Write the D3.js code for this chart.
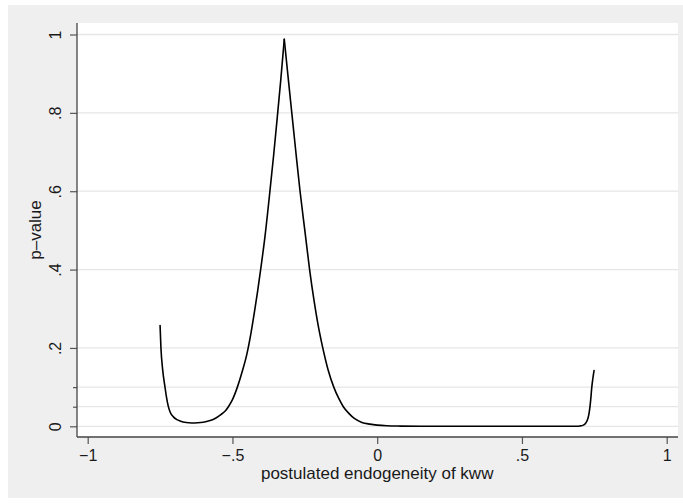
<!DOCTYPE html>
<html>
<head>
<meta charset="utf-8">
<script src="https://cdn.jsdelivr.net/npm/d3@7"></script>
<style>
  html, body { margin: 0; padding: 0; background: #ffffff; }
  svg { display: block; }
  text { font-family: "Liberation Sans", Arial, Helvetica, sans-serif; fill: #1a1a1a; }
</style>
</head>
<body>
<svg id="chart" width="683" height="503"></svg>
<script>
// ---- data ----
const rhoValues = [
  -0.750, -0.747, -0.741, -0.733, -0.728, -0.722, -0.715, -0.704, -0.692, -0.681,
  -0.660, -0.641, -0.620, -0.601, -0.580, -0.560, -0.540, -0.525, -0.514, -0.500,
  -0.483, -0.467, -0.450, -0.436, -0.424, -0.413, -0.403, -0.388, -0.372, -0.358,
  -0.345, -0.333, -0.321, -0.308, -0.295, -0.281, -0.2665, -0.250, -0.2335, -0.218,
  -0.205, -0.188, -0.170, -0.150, -0.134, -0.117, -0.098, -0.079, -0.053, -0.025,
  0.000, 0.033, 0.080, 0.150, 0.300, 0.500, 0.650, 0.690, 0.700, 0.712,
  0.720, 0.726, 0.731, 0.735, 0.738, 0.741, 0.745, 0.749
];
const pValues = [
  0.257, 0.200, 0.144, 0.100, 0.075, 0.052, 0.036, 0.024, 0.017, 0.0135,
  0.0095, 0.0084, 0.0090, 0.0105, 0.0140, 0.0200, 0.0300, 0.0390, 0.0500, 0.0680,
  0.100, 0.138, 0.185, 0.238, 0.292, 0.345, 0.398, 0.482, 0.590, 0.690,
  0.790, 0.885, 0.988, 0.893, 0.800, 0.700, 0.600, 0.500, 0.400, 0.320,
  0.262, 0.200, 0.145, 0.100, 0.073, 0.050, 0.033, 0.020, 0.010, 0.0055,
  0.003, 0.0013, 0.0005, 0.0001, 0.0, 0.0, 0.0, 0.0002, 0.0008, 0.003,
  0.008, 0.016, 0.030, 0.050, 0.072, 0.098, 0.122, 0.142
];
const xTicks = [-1, -0.5, 0, 0.5, 1];
const xTickLabels = ["\u22121", "\u2212.5", "0", ".5", "1"];
const yTicks = [0, 0.2, 0.4, 0.6, 0.8, 1];
const yTickLabels = ["0", ".2", ".4", ".6", ".8", "1"];
const yMinorTicks = [0.05, 0.1];
const xTitle = "postulated endogeneity of kww";
const yTitle = "p\u2013value";

// ---- layout ----
const svg = d3.select("#chart");
const W = 683, H = 503;
const plotL = 77, plotR = 678, plotT = 23, plotB = 437;

const x = d3.scaleLinear().domain([-1, 1]).range([87.7, 666.7]);
const y = d3.scaleLinear().domain([0, 1]).range([426.3, 34.5]);

// graph region background
svg.append("rect").attr("x", 8).attr("y", 5).attr("width", W - 8).attr("height", H - 10)
  .attr("fill", "#efefef");
// plot region
svg.append("rect").attr("x", plotL).attr("y", plotT)
  .attr("width", plotR - plotL).attr("height", plotB - plotT).attr("fill", "#ffffff");

// gridlines
const gridVals = yTicks.concat(yMinorTicks);
svg.append("g").selectAll("line").data(gridVals).join("line")
  .attr("x1", plotL).attr("x2", plotR)
  .attr("y1", d => y(d)).attr("y2", d => y(d))
  .attr("stroke", "#e6e6e6").attr("stroke-width", 1.3);

// y axis (major)
const yAxis = d3.axisLeft(y).tickValues(yTicks).tickSize(7)
  .tickFormat((d, i) => yTickLabels[i]);
const gy = svg.append("g").attr("transform", `translate(${plotL},0)`).call(yAxis);
gy.select(".domain").remove();
gy.selectAll(".tick line").attr("stroke", "#555").attr("stroke-width", 1.2);
gy.selectAll(".tick text")
  .attr("font-size", 16).attr("fill", "#1a1a1a")
  .attr("text-anchor", "middle")
  .attr("x", 0).attr("y", 0).attr("dy", null)
  .attr("transform", "translate(-16,0) rotate(-90)");

// y axis (minor)
const yMinor = d3.axisLeft(y).tickValues(yMinorTicks).tickSize(4).tickFormat("");
const gym = svg.append("g").attr("transform", `translate(${plotL},0)`).call(yMinor);
gym.select(".domain").remove();
gym.selectAll(".tick line").attr("stroke", "#555").attr("stroke-width", 1.2);

svg.append("line").attr("x1", plotL).attr("x2", plotL).attr("y1", plotT).attr("y2", plotB)
  .attr("stroke", "#444").attr("stroke-width", 1.3);

// x axis
const xAxis = d3.axisBottom(x).tickValues(xTicks).tickSize(7)
  .tickFormat((d, i) => xTickLabels[i]);
const gx = svg.append("g").attr("transform", `translate(0,${plotB})`).call(xAxis);
gx.select(".domain").remove();
gx.selectAll(".tick line").attr("stroke", "#555").attr("stroke-width", 1.2);
gx.selectAll(".tick text").attr("font-size", 16).attr("fill", "#1a1a1a")
  .attr("dy", null).attr("y", 23.5);
svg.append("line").attr("x1", plotL).attr("x2", plotR).attr("y1", plotB).attr("y2", plotB)
  .attr("stroke", "#444").attr("stroke-width", 1.3);

// axis titles
svg.append("text").attr("x", x(0)).attr("y", 479)
  .attr("text-anchor", "middle").attr("font-size", 17).text(xTitle);
svg.append("text")
  .attr("transform", `translate(40.5,${(plotT + plotB) / 2}) rotate(-90)`)
  .attr("text-anchor", "middle").attr("font-size", 17).text(yTitle);

// curve: smooth on each side of the peak, sharp at the peak itself
const pts = rhoValues.map((r, i) => [r, pValues[i]]);
const peakIdx = d3.maxIndex(pValues);
const line = d3.line().x(d => x(d[0])).y(d => y(d[1])).curve(d3.curveMonotoneX);
const segs = [pts.slice(0, peakIdx + 1), pts.slice(peakIdx)];
svg.append("g").selectAll("path").data(segs).join("path")
  .attr("d", line)
  .attr("fill", "none").attr("stroke", "#000").attr("stroke-width", 1.6)
  .attr("stroke-linejoin", "round").attr("stroke-linecap", "round");
</script>
</body>
</html>
